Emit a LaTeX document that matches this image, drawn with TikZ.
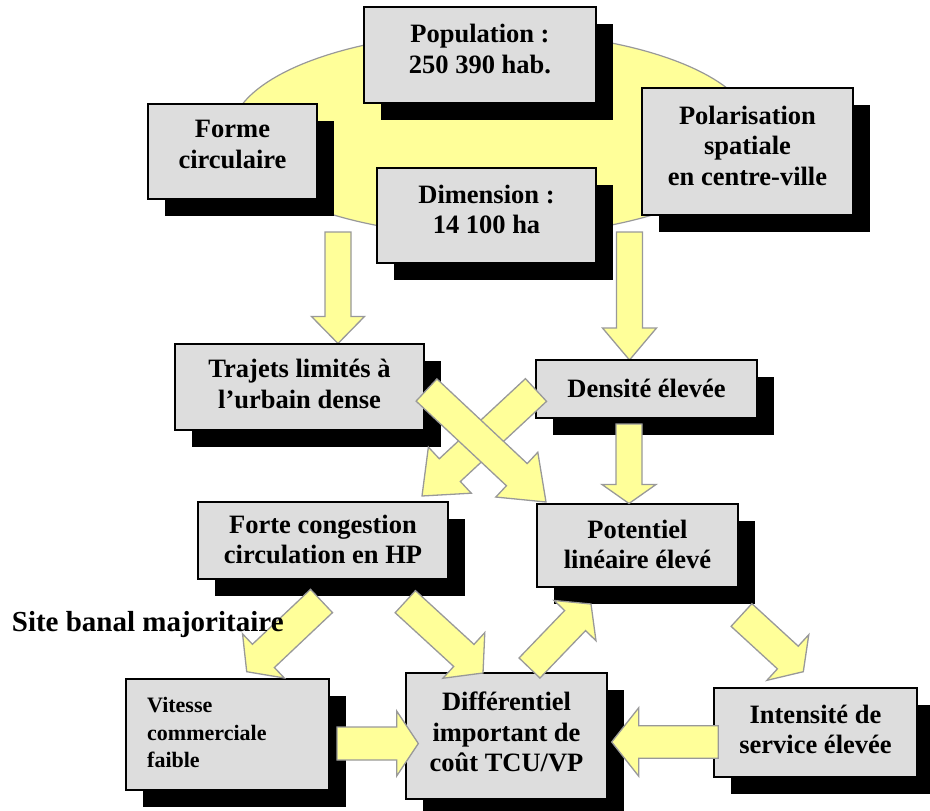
\documentclass[tikz,border=0pt]{standalone}
\usepackage{fontspec}
\setmainfont{Liberation Serif}
\usetikzlibrary{calc,shadows,shapes.geometric}
\definecolor{boxgrey}{HTML}{DDDDDD}
\definecolor{ylw}{HTML}{FFFF99}
\definecolor{edgegrey}{HTML}{999999}
\tikzset{
  boxnode/.style={draw=black, line width=1.6pt, fill=boxgrey, inner sep=0pt,
    drop shadow={shadow xshift=17pt, shadow yshift=-17pt, fill=black, opacity=1}},
  lbl/.style={font=\bfseries\fontsize{26.5}{30.5}\selectfont, align=center, inner sep=0pt},
  blockarrow/.style={fill=ylw, draw=edgegrey, line width=1.3pt, line join=miter},
}
\newcommand\blockarr[5]{%
  \coordinate (hb) at ($(#2)!#5!(#1)$);
  \draw[blockarrow] ($(#1)!#3!90:(#2)$) -- ($(hb)!#3!90:(#2)$) -- ($(hb)!#4!90:(#2)$)
    -- (#2) -- ($(hb)!#4!-90:(#2)$) -- ($(hb)!#3!-90:(#2)$) -- ($(#1)!#3!-90:(#2)$) -- cycle;
}
\begin{document}
\begin{tikzpicture}[x=1pt,y=-1pt]
\useasboundingbox (0,0) rectangle (930,811);
% background ellipse
\node[ellipse, draw=edgegrey, fill=ylw, line width=1.2pt, minimum width=524pt, minimum height=204pt] (ell) at (493,134) {};
% arrow coordinates
\coordinate (a1t) at (338,232);   \coordinate (a1h) at (338,343.5);
\coordinate (a2t) at (629.5,232); \coordinate (a2h) at (629.5,360);
\coordinate (a3t) at (629,424);   \coordinate (a3h) at (629,503.5);
\coordinate (a4t) at (426.5,390); \coordinate (a4h) at (546,502);
\coordinate (a5t) at (536,390);   \coordinate (a5h) at (422,496);
\coordinate (a6t) at (321.5,601); \coordinate (a6h) at (246.7,671.7);
\coordinate (a7t) at (405.3,601.7); \coordinate (a7h) at (483,673);
\coordinate (a8t) at (529.5,668); \coordinate (a8h) at (591,604);
\coordinate (a9t) at (741.5,615); \coordinate (a9h) at (803.3,671.7);
\coordinate (a10t) at (337,743.5); \coordinate (a10h) at (418.3,743.5);
\coordinate (a11t) at (718.3,742); \coordinate (a11h) at (611.7,742);
% arrows behind boxes
\blockarr{a1t}{a1h}{13pt}{26.5pt}{27pt}
\blockarr{a2t}{a2h}{13pt}{27pt}{32pt}
% boxes
\node[boxnode, minimum width=232pt, minimum height=96pt] (pop) at (480,55) {};
\node[boxnode, minimum width=169pt, minimum height=95pt] (forme) at (232.5,151.5) {};
\node[boxnode, minimum width=211pt, minimum height=127pt] (pol) at (747.5,151.5) {};
\node[boxnode, minimum width=219pt, minimum height=95pt] (dim) at (486.5,215.5) {};
\node[boxnode, minimum width=249pt, minimum height=86pt] (traj) at (299.5,387) {};
\node[boxnode, minimum width=221pt, minimum height=58pt] (dens) at (646.5,389) {};
\node[boxnode, minimum width=250pt, minimum height=77pt] (forte) at (323,540.5) {};
\node[boxnode, minimum width=201pt, minimum height=83pt] (pot) at (637.5,545.5) {};
\node[boxnode, minimum width=203pt, minimum height=111pt] (vit) at (227.5,734.5) {};
\node[boxnode, minimum width=201pt, minimum height=126pt] (diff) at (506.5,736) {};
\node[boxnode, minimum width=203pt, minimum height=89pt] (int) at (815.5,732.5) {};
% labels
\node[lbl] (popt) at ([yshift=6pt]pop.center) {Population :\\250 390 hab.};
\node[lbl] (formet) at ([yshift=7pt]forme.center) {Forme\\circulaire};
\node[lbl] (polt) at ([yshift=6pt]pol.center) {Polarisation\\spatiale\\en centre-ville};
\node[lbl] (dimt) at ([yshift=6pt]dim.center) {Dimension :\\14 100 ha};
\node[lbl] (trajt) at ([yshift=3pt]traj.center) {Trajets limités à\\l’urbain dense};
\node[lbl] (denst) at ([yshift=1pt]dens.center) {Densité élevée};
\node[lbl] (fortet) at ([yshift=1pt]forte.center) {Forte congestion\\circulation en HP};
\node[lbl] (pott) at ([yshift=1pt]pot.center) {Potentiel\\linéaire élevé};
\node[font=\bfseries\fontsize{22}{27.5}\selectfont, align=left, anchor=north west, inner sep=0pt] (vitt) at (147,697.5) {Vitesse\\commerciale\\faible};
\node[lbl] (difft) at ([yshift=4pt]diff.center) {Différentiel\\important de\\coût TCU/VP};
\node[lbl] (intt) at ([yshift=3pt]int.center) {Intensité de\\service élevée};
% arrows on top
\blockarr{a3t}{a3h}{13pt}{27pt}{19pt}
\blockarr{a5t}{a5h}{15.5pt}{31.5pt}{38pt}
\blockarr{a4t}{a4h}{15.2pt}{30.7pt}{40pt}
\blockarr{a6t}{a6h}{16pt}{30.4pt}{23pt}
\blockarr{a7t}{a7h}{15pt}{31pt}{26pt}
\blockarr{a8t}{a8h}{14.5pt}{29pt}{23pt}
\blockarr{a9t}{a9h}{15.4pt}{31pt}{21pt}
\blockarr{a10t}{a10h}{16.5pt}{32.5pt}{21.6pt}
\blockarr{a11t}{a11h}{16.3pt}{34.2pt}{27pt}
% free text
\node[font=\bfseries\fontsize{29}{34}\selectfont, anchor=base west, inner sep=0pt] (site) at (11.7,631.7) {Site banal majoritaire};
\end{tikzpicture}
\end{document}
